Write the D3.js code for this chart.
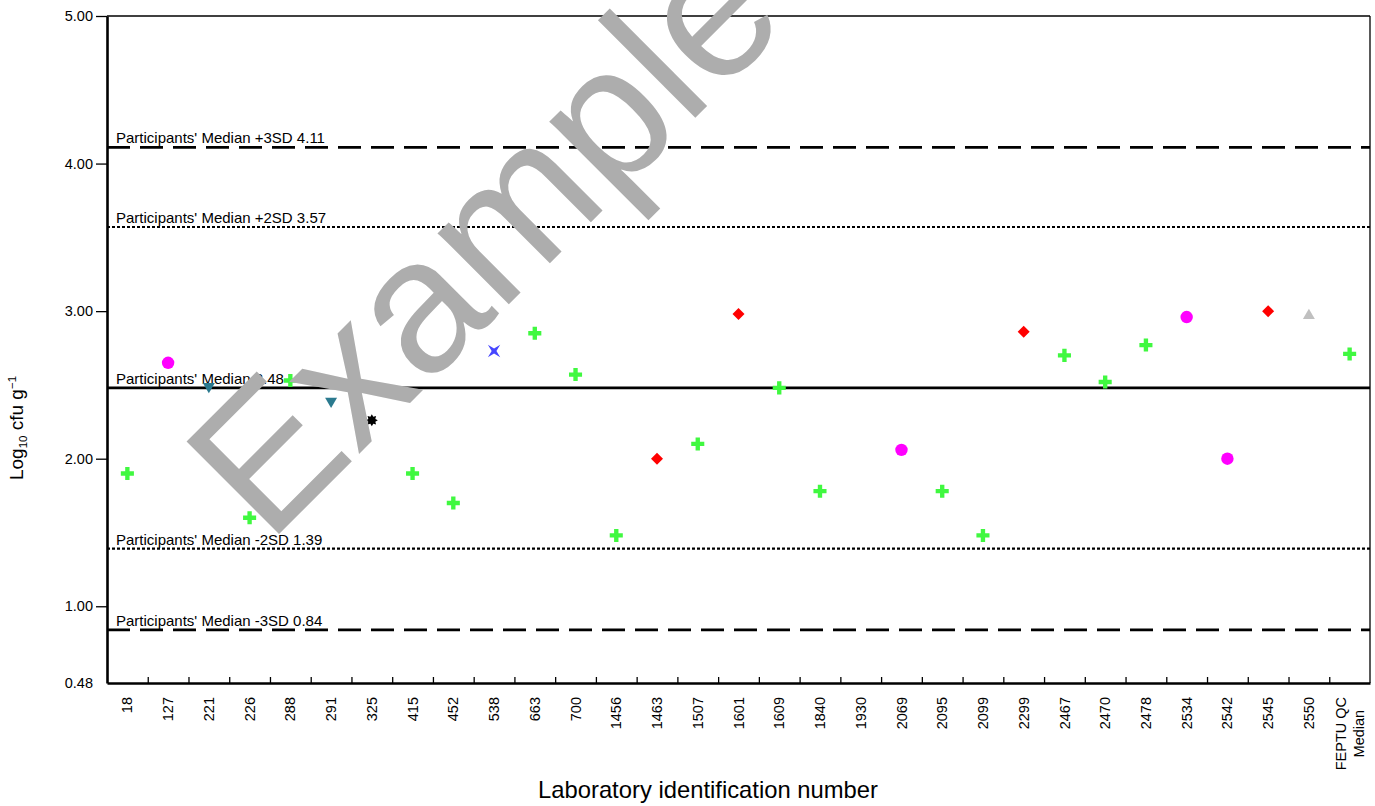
<!DOCTYPE html>
<html>
<head>
<meta charset="utf-8">
<script src="https://cdn.jsdelivr.net/npm/d3@7"></script>
<style>
  body { margin: 0; background: #fff; }
  svg { display: block; font-family: "Liberation Sans", Arial, sans-serif; }
</style>
</head>
<body>
<svg id="chart" width="1375" height="806"></svg>
<script>
// laboratory ids along the x axis
const labs = ['18', '127', '221', '226', '288', '291', '325', '415', '452', '538', '663', '700',
  '1456', '1463', '1507', '1601', '1609', '1840', '1930', '2069', '2095', '2099', '2299', '2467',
  '2470', '2478', '2534', '2542', '2545', '2550', 'FEPTU QC\nMedian'];

// log10 cfu/g result per lab (null = no result reported)
const results = [1.90, 2.65, 2.49, 1.60, 2.53, 2.39, 2.26, 1.90, 1.70, 2.73, 2.85, 2.57,
  1.48, 2.00, 2.10, 2.98, 2.48, 1.78, null, 2.06, 1.78, 1.48, 2.86, 2.70,
  2.52, 2.77, 2.96, 2.00, 3.00, 2.97, 2.71];

// method group per lab (decides the marker)
const methods = ['cross', 'circle', 'triDown', 'cross', 'cross', 'triDown', 'burst', 'cross', 'cross', 'star4', 'cross', 'cross',
  'cross', 'diamond', 'cross', 'diamond', 'cross', 'cross', null, 'circle', 'cross', 'cross', 'diamond', 'cross',
  'cross', 'cross', 'circle', 'circle', 'diamond', 'triUp', 'cross'];

// participants' median and SD limits
const refSD = [3, 2, 0, -2, -3];
const refValues = [4.11, 3.57, 2.48, 1.39, 0.84];

const yTicks = [5, 4, 3, 2, 1, 0.48];

const W = 1375, H = 806;
const m = { top: 16, right: 5, bottom: 123, left: 107 };

const svg = d3.select('#chart');

const x = d3.scaleBand().domain(labs).range([m.left, W - m.right]);
const y = d3.scaleLinear().domain([0.48, 5]).range([H - m.bottom, m.top]);

// --- reference lines ---
const lineStyle = {
  3: { dash: '23,10', width: 2.7 },
  2: { dash: '3,2', width: 2.2 },
  0: { dash: null, width: 2.7 }
};

const refs = refSD.map((sd, i) => ({ sd, v: refValues[i] }));

svg.append('g').selectAll('line')
  .data(refs)
  .join('line')
  .attr('x1', m.left).attr('x2', W - m.right)
  .attr('y1', d => y(d.v)).attr('y2', d => y(d.v))
  .attr('stroke', '#000')
  .attr('stroke-width', d => lineStyle[Math.abs(d.sd)].width)
  .attr('stroke-dasharray', d => lineStyle[Math.abs(d.sd)].dash);

svg.append('g').selectAll('text')
  .data(refs)
  .join('text')
  .attr('x', m.left + 9)
  .attr('y', d => y(d.v) - 4)
  .attr('font-size', 15)
  .text(d => {
    const name = d.sd === 0 ? "Participants' Median" : `Participants' Median ${d.sd > 0 ? '+' : '-'}${Math.abs(d.sd)}SD`;
    return `${name} ${d.v.toFixed(2)}`;
  });

// --- frame (top & right) ---
svg.append('line')
  .attr('x1', m.left).attr('x2', W - m.right)
  .attr('y1', m.top).attr('y2', m.top)
  .attr('stroke', '#000').attr('stroke-width', 1.3);
svg.append('line')
  .attr('x1', W - m.right).attr('x2', W - m.right)
  .attr('y1', m.top).attr('y2', H - m.bottom)
  .attr('stroke', '#000').attr('stroke-width', 1.3);

// --- y axis ---
const yAxis = svg.append('g')
  .attr('transform', `translate(${m.left},0)`)
  .call(d3.axisLeft(y).tickValues(yTicks).tickFormat(d3.format('.2f')).tickSize(11).tickSizeOuter(0).tickPadding(3));
yAxis.select('.domain').attr('stroke-width', 2.6);
yAxis.selectAll('.tick line').attr('stroke-width', 1.3)
  .filter(d => d === 0.48).remove();
yAxis.selectAll('.tick text').attr('font-size', 14.5).attr('font-family', null).attr('fill', '#000');

// --- x axis: boundary ticks between labs ---
const bounds = d3.scaleLinear().domain([0, labs.length]).range([m.left, W - m.right]);
const xTicks = svg.append('g')
  .attr('transform', `translate(0,${H - m.bottom})`)
  .call(d3.axisTop(bounds).tickValues(d3.range(1, labs.length)).tickFormat('').tickSize(6).tickSizeOuter(0));
xTicks.select('.domain').attr('stroke-width', 2.6);
xTicks.selectAll('.tick line').attr('stroke-width', 1.3);

// --- x axis labels ---
const xLab = svg.append('g')
  .attr('transform', `translate(0,${H - m.bottom})`)
  .call(d3.axisBottom(x).tickSize(0).tickSizeOuter(0).tickFormat(''));
xLab.select('.domain').remove();
xLab.selectAll('.tick').each(function (d) {
  const lines = d.split('\n');
  const t = d3.select(this).append('text')
    .attr('transform', 'rotate(-90)')
    .attr('fill', '#000')
    .attr('font-size', 14.5);
  if (lines.length === 1) {
    t.attr('x', -14).attr('dy', '0.35em').attr('text-anchor', 'end').text(d);
  } else {
    const spans = t.attr('text-anchor', 'middle').selectAll('tspan')
      .data(lines).join('tspan')
      .attr('y', (l, i) => (i - (lines.length - 1) / 2) * 18)
      .attr('dy', '0.35em')
      .text(l => l);
    const w = d3.max(spans.nodes(), n => n.getComputedTextLength());
    spans.attr('x', -(14 + w / 2));
  }
});

// --- axis titles ---
const yTitle = svg.append('text')
  .attr('transform', `translate(23,428) rotate(-90)`)
  .attr('text-anchor', 'middle')
  .attr('font-size', 19);
yTitle.append('tspan').text('Log');
yTitle.append('tspan').attr('font-size', 11.5).attr('dy', 4).text('10');
yTitle.append('tspan').attr('dy', -4).text(' cfu g');
yTitle.append('tspan').attr('font-size', 11.5).attr('dy', -7).text('\u22121');

svg.append('text')
  .attr('x', 708)
  .attr('y', 798)
  .attr('text-anchor', 'middle')
  .attr('font-size', 23.8)
  .text('Laboratory identification number');

// --- markers ---
const radialStar = (n, rOut, rIn, offset) => d3.lineRadial()
  .angle((p, i) => offset + i * Math.PI / n)
  .radius((p, i) => (i % 2 ? rIn : rOut))
  .curve(d3.curveLinearClosed)(d3.range(2 * n));

const markers = {
  cross:   { path: d3.symbol(d3.symbolCross, 95)(), fill: '#40f840', rot: 0 },
  circle:  { path: d3.symbol(d3.symbolCircle, 121)(), fill: '#ff00ff', rot: 0 },
  triDown: { path: d3.symbol(d3.symbolTriangle, 62)(), fill: '#2b7a8f', rot: 180 },
  triUp:   { path: d3.symbol(d3.symbolTriangle, 62)(), fill: '#c0c0c0', rot: 0 },
  diamond: { path: d3.symbol(d3.symbolSquare, 72)(), fill: '#ff0000', rot: 45 },
  star4:   { path: radialStar(4, 8.7, 2.4, Math.PI / 4), fill: '#4646ff', rot: 0 },
  burst:   { path: radialStar(8, 6, 3.8, 0), fill: '#000000', rot: 0 }
};

const pts = labs.map((lab, i) => ({ lab, v: results[i], kind: methods[i] }))
  .filter(d => d.v != null);

svg.append('g').selectAll('path')
  .data(pts)
  .join('path')
  .attr('transform', d => `translate(${x(d.lab) + x.bandwidth() / 2},${y(d.v)}) rotate(${markers[d.kind].rot})`)
  .attr('d', d => markers[d.kind].path)
  .attr('fill', d => markers[d.kind].fill);

// --- watermark ---
svg.append('text')
  .attr('transform', 'translate(268,545) rotate(-45)')
  .attr('font-size', 190)
  .attr('fill', '#adadad')
  .text('Example');
</script>
</body>
</html>
